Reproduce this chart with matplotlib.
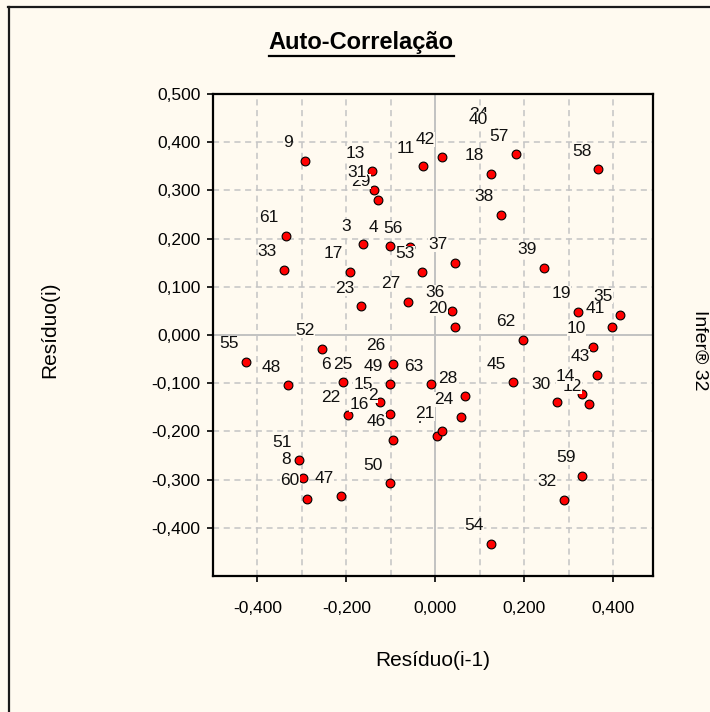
import matplotlib
matplotlib.use('Agg')
import matplotlib.pyplot as plt
from matplotlib.lines import Line2D
from matplotlib.ticker import MultipleLocator, FuncFormatter

# Residue pairs: x = residue(i-1), y = residue(i)
# (order matters a little: later labels cover earlier ones, as in the original)
labels = ['9', '29', '13', '31', '11', '42', '34', '40', '57', '18', '58', '38',
          '61', '3', '4', '56', '53', '37', '33', '17', '23', '27', '20', '36',
          '39', '19', '35', '41', '10', '62', '52', '55', '48', '26', '6', '25',
          '49', '63', '28', '24', '15', '2', '22', '16', '46', '7', '21', '45',
          '43', '30', '12', '14', '8', '51', '60', '47', '50', '59', '32', '54']
res_prev = [-0.293, -0.129, -0.143, -0.138, -0.028, 0.015, 0.136, 0.134, 0.181, 0.125, 0.367, 0.147,
            -0.336, -0.163, -0.102, -0.057, -0.030, 0.044, -0.340, -0.192, -0.167, -0.062, 0.044, 0.037,
            0.244, 0.322, 0.415, 0.397, 0.356, 0.197, -0.255, -0.426, -0.331, -0.096, -0.208, -0.170,
            -0.102, -0.010, 0.066, 0.057, -0.125, -0.102, -0.197, -0.134, -0.096, 0.003, 0.015, 0.176,
            0.363, 0.275, 0.345, 0.331, -0.298, -0.307, -0.289, -0.212, -0.102, 0.331, 0.289, 0.125]
res_curr = [0.362, 0.281, 0.340, 0.300, 0.350, 0.369, 0.419, 0.410, 0.375, 0.335, 0.344, 0.250,
            0.206, 0.188, 0.185, 0.183, 0.131, 0.150, 0.135, 0.131, 0.060, 0.069, 0.017, 0.050,
            0.140, 0.048, 0.042, 0.017, -0.025, -0.010, -0.029, -0.056, -0.104, -0.060, -0.098, -0.098,
            -0.102, -0.102, -0.127, -0.171, -0.140, -0.163, -0.167, -0.181, -0.217, -0.210, -0.200, -0.098,
            -0.083, -0.140, -0.144, -0.123, -0.296, -0.260, -0.340, -0.335, -0.308, -0.292, -0.342, -0.433]
y_ticks = [-0.4, -0.3, -0.2, -0.1, 0.0, 0.1, 0.2, 0.3, 0.4, 0.5]

bg = '#fffaf0'
plt.rcParams['font.family'] = ['Liberation Sans', 'DejaVu Sans']

fig = plt.figure(figsize=(7.10, 7.12), dpi=100)
fig.patch.set_facecolor(bg)
ax = fig.add_axes([213/710, 1 - 576/712, 440/710, 482/712])
ax.set_facecolor(bg)

ax.set_xlim(-0.5, 0.49)
ax.set_ylim(-0.5, 0.5)

# dashed grid every 0.1, solid zero lines
ax.xaxis.set_major_locator(MultipleLocator(0.2))
ax.xaxis.set_minor_locator(MultipleLocator(0.1))
ax.set_yticks(y_ticks)
ax.grid(True, which='both', color='#c4c4c4', linestyle=(0, (4, 3)), linewidth=1.1, zorder=0)
ax.axhline(0, color='#b8b8b8', linewidth=1.2, zorder=1)
ax.axvline(0, color='#b8b8b8', linewidth=1.2, zorder=1)

fmt = FuncFormatter(lambda v, p: ('%.3f' % (0.0 if abs(v) < 1e-9 else v)).replace('.', ','))
ax.xaxis.set_major_formatter(fmt)
ax.yaxis.set_major_formatter(fmt)
ax.tick_params(axis='x', which='major', length=4, width=1.2, pad=14, labelsize=12.5)
ax.tick_params(axis='x', which='minor', length=0)
ax.tick_params(axis='y', length=4, width=1.2, pad=5, labelsize=12.5)
for sp in ax.spines.values():
    sp.set_linewidth(1.6)
    sp.set_color('black')

ax.scatter(res_prev, res_curr, s=40, c='#ff0000', edgecolors='black', linewidths=0.8, zorder=3)
for lab, x, y in zip(labels, res_prev, res_curr):
    ax.annotate(lab, (x, y), xytext=(-12, 13), textcoords='offset points',
                ha='center', va='center', fontsize=12.5, color='#111111', zorder=4,
                bbox=dict(boxstyle='square,pad=0', facecolor=bg, edgecolor='none'))

# titles and axis captions
title = fig.text(361/710, 1 - 43/712, 'Auto-Correlação', ha='center', va='center',
                 fontsize=17, fontweight='bold')
fig.text(433/710, 1 - 660/712, 'Resíduo(i-1)', ha='center', va='center', fontsize=15)
fig.text(50/710, 1 - 330/712, 'Resíduo(i)', ha='center', va='center', rotation=90, fontsize=15)
fig.text(700/710, 1 - 350/712, 'Infer® 32', ha='center', va='center', rotation=-90, fontsize=14)

# underline the title
fig.canvas.draw()
bb = title.get_window_extent()
W, H = fig.bbox.width, fig.bbox.height
fig.add_artist(Line2D([bb.x0 / W, bb.x1 / W], [(bb.y0 - 1) / H, (bb.y0 - 1) / H],
                      transform=fig.transFigure, color='black', linewidth=1.6))

# window frame on the left and top
fig.add_artist(Line2D([9/710, 9/710], [0, 1 - 7/712], transform=fig.transFigure, color='#1a1a1a', linewidth=1.6))
fig.add_artist(Line2D([8/710, 1], [1 - 7/712, 1 - 7/712], transform=fig.transFigure, color='#1a1a1a', linewidth=1.6))

fig.savefig('out.png', dpi=100, facecolor=bg)
